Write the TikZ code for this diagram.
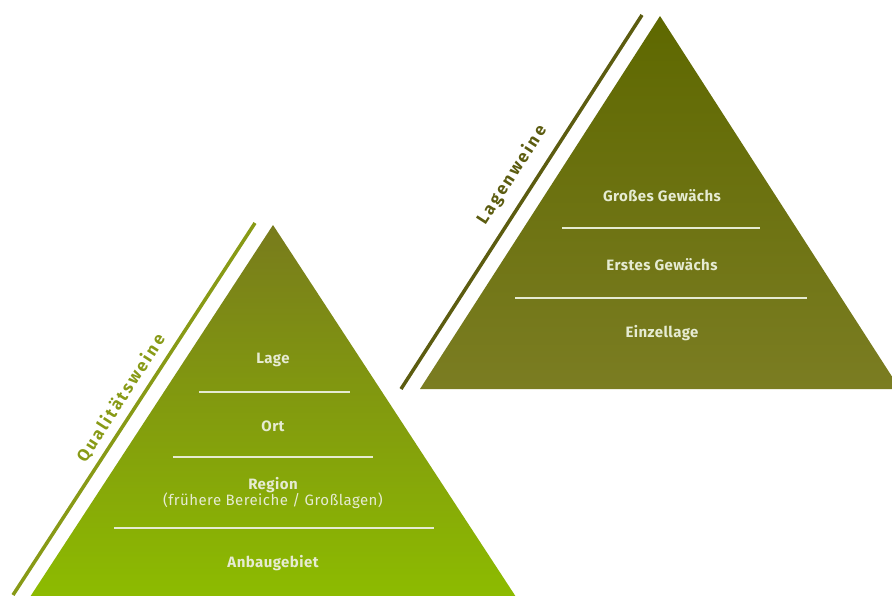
\documentclass[tikz,border=0pt]{standalone}
\usepackage{fontspec}
\setmainfont{Fira Sans}
\newfontfamily\lblfont[LetterSpace=3]{Fira Sans}
\newfontfamily\sidefont[LetterSpace=14]{Fira Sans}
\definecolor{lgTop}{HTML}{787B1C}
\definecolor{lgBot}{HTML}{8DBC00}
\definecolor{rgTop}{HTML}{5E6800}
\definecolor{rgBot}{HTML}{7B7D22}
\definecolor{lline}{HTML}{889A16}
\definecolor{rline}{HTML}{5C5C10}
\definecolor{txt}{HTML}{E6EBD2}
\tikzset{
  lbl/.style={text=txt, font=\lblfont\fontsize{15}{17}\selectfont\bfseries, align=center, inner sep=0pt},
  sep/.style={draw=txt, line width=1.3pt},
  side/.style={font=\sidefont\fontsize{17}{20}\selectfont\bfseries, inner sep=0pt, rotate=57.2}
}
\begin{document}
\begin{tikzpicture}[x=1pt,y=-1pt]
\useasboundingbox (0,0) rectangle (892,595);
\clip (0,0) rectangle (892,595);
% right pyramid
\shade[top color=rgTop, bottom color=rgBot] (660,16) -- (900,389) -- (420,389) -- cycle;
\draw[rline, line width=3.5pt] (642,15) -- (401,389);
\draw[sep] (562,228) -- (760,228);
\draw[sep] (515,298) -- (807,298);
\node[lbl] (gg) at (662,196) {Großes Gewächs};
\node[lbl] (eg) at (662,265) {Erstes Gewächs};
\node[lbl] (ez) at (662,333) {Einzellage};
\node[side, text=rline] (lw) at (512,175) {Lagenweine};
% left pyramid
\shade[top color=lgTop, bottom color=lgBot] (273,225) -- (518,600) -- (28,600) -- cycle;
\draw[lline, line width=3.5pt] (255,223) -- (13,595);
\draw[sep] (199,392) -- (350,392);
\draw[sep] (173,457) -- (373,457);
\draw[sep] (114,528) -- (434,528);
\node[lbl] (la) at (273,360) {Lage};
\node[lbl] (ort) at (273,426) {Ort};
\node[lbl] (re) at (273,493) {Region\\[-1pt]\mdseries(frühere Bereiche / Großlagen)};
\node[lbl] (an) at (273,563) {Anbaugebiet};
\node[side, text=lline] (qw) at (121,398) {Qualitätsweine};
\end{tikzpicture}
\end{document}
